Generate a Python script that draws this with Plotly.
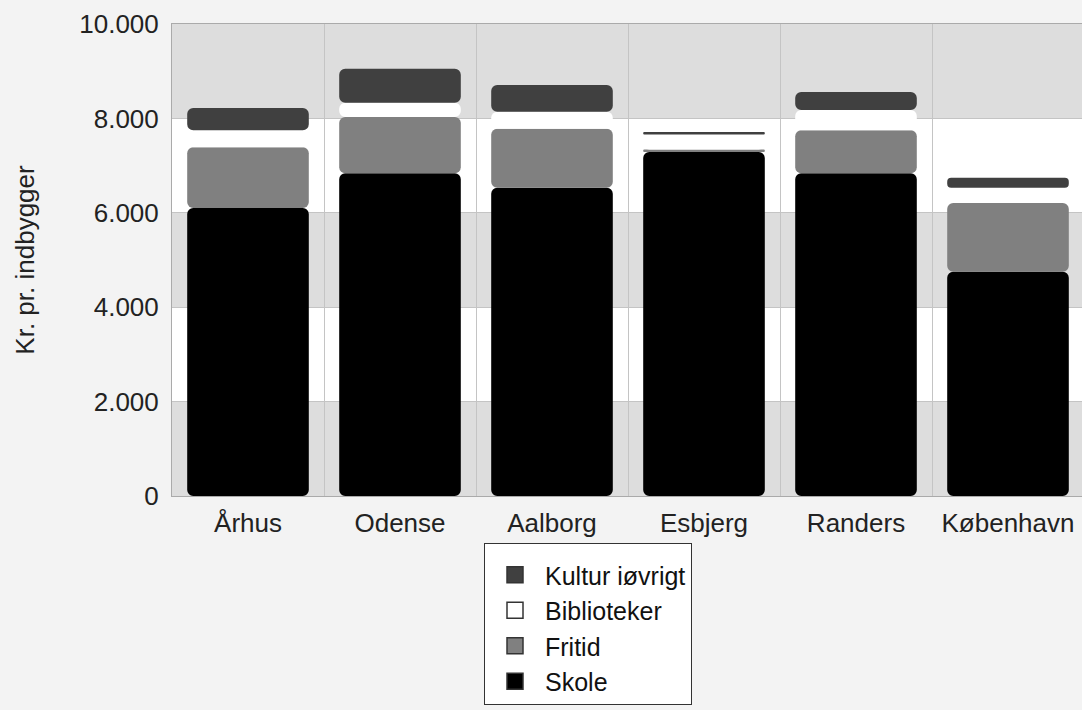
import plotly.graph_objects as go

# --- DATA (kr. pr. indbygger) ---
cities = ["Århus", "Odense", "Aalborg", "Esbjerg", "Randers", "København"]
skole = [6100, 6840, 6530, 7290, 6840, 4750]
fritid = [1290, 1190, 1250, 50, 910, 1460]
biblioteker = [360, 300, 360, 320, 430, 320]
kultur = [470, 720, 570, 50, 380, 210]

series = [
    ("Skole", skole, "#000000"),
    ("Fritid", fritid, "#808080"),
    ("Biblioteker", biblioteker, "#ffffff"),
    ("Kultur iøvrigt", kultur, "#404040"),
]

FONT = "Liberation Sans, Arial, sans-serif"

fig = go.Figure()

# stacked by hand (overlay + base) so every segment gets its own rounded top
base = [0] * len(cities)
for name, vals, col in series:
    fig.add_trace(go.Bar(
        x=cities, y=vals, base=list(base),
        name=name, showlegend=False,
        marker=dict(color=col, line_width=0, cornerradius=6),
        width=0.8,
    ))
    base = [b + v for b, v in zip(base, vals)]

# legend entries: square swatches (bar legend icons would be tiny/rounded)
for rank, (name, vals, col) in enumerate(series):
    fig.add_trace(go.Scatter(
        x=[None], y=[None], mode="markers", name=name,
        marker=dict(symbol="square", size=16, color=col,
                    line=dict(width=1.5, color="#333333")),
        legendrank=10 - rank,
    ))

# alternating grey bands behind the bars
for y0 in (0, 4000, 8000):
    fig.add_shape(type="rect", xref="paper", yref="y", x0=0, x1=1, y0=y0, y1=y0 + 2000,
                  fillcolor="#dddddd", line_width=0, layer="below")

fig.update_layout(
    width=1084, height=710,
    margin=dict(l=172, r=0, t=24, b=214),
    barmode="overlay",
    separators=",.",
    paper_bgcolor="#f3f3f3",
    plot_bgcolor="#ffffff",
    font=dict(family=FONT, size=26, color="#222222"),
    showlegend=True,
    legend=dict(
        x=(484 - 172) / 912, y=-0.1, xanchor="left", yanchor="top",
        bgcolor="#ffffff", bordercolor="#333333", borderwidth=1,
        traceorder="normal", itemwidth=50, entrywidth=175,
        title=dict(text="\u00a0", font=dict(size=6)),
        font=dict(size=25, color="#111111"),
    ),
)

fig.update_xaxes(
    tickson="boundaries", showgrid=True, gridcolor="#c4c4c4", gridwidth=1,
    ticks="", ticklabelstandoff=4,
    showline=True, linecolor="#aaaaaa", mirror=True,
    range=[-0.5, 5.5],
)
fig.update_yaxes(
    range=[0, 10000], tickvals=[0, 2000, 4000, 6000, 8000, 10000],
    tickformat=",d", showgrid=True, gridcolor="#c4c4c4", gridwidth=1,
    ticks="", ticklabelstandoff=7, zeroline=False,
    showline=True, linecolor="#aaaaaa", mirror=True,
    title=dict(text="Kr. pr. indbygger", standoff=37, font=dict(size=26)),
)

fig.write_html(
    "out.html",
    config={"displayModeBar": False},
    post_script="document.body.style.margin='0';document.body.style.overflow='hidden';"
                "document.body.style.background='#f3f3f3';",
)
